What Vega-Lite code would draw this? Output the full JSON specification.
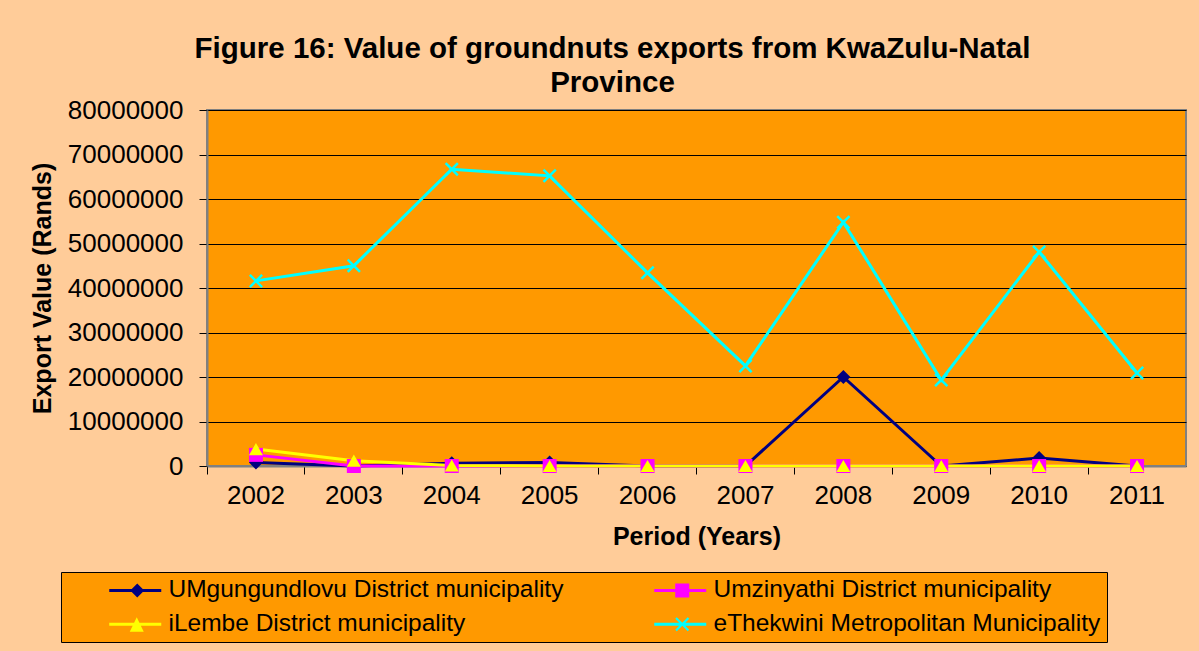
{
  "$schema": "https://vega.github.io/schema/vega-lite/v6.json",
  "width": 979,
  "height": 356,
  "autosize": {"type": "none"},
  "padding": {"left": 207, "top": 110, "right": 13, "bottom": 185},
  "background": "#FFCC99",
  "title": {
    "text": ["Figure 16: Value of groundnuts exports from KwaZulu-Natal", "Province"],
    "font": "Liberation Sans",
    "fontSize": 29.5,
    "fontWeight": "bold",
    "color": "black",
    "anchor": "middle",
    "frame": "group",
    "dx": -84,
    "offset": -1,
    "lineHeight": 34
  },
  "config": {
    "font": "Liberation Sans",
    "view": {"fill": "#FF9900", "stroke": "#808080", "strokeWidth": 2}
  },
  "data": {
    "values": [
      {"year": "2002", "series": "UMgungundlovu District municipality", "value": 800000},
      {"year": "2003", "series": "UMgungundlovu District municipality", "value": 0},
      {"year": "2004", "series": "UMgungundlovu District municipality", "value": 600000},
      {"year": "2005", "series": "UMgungundlovu District municipality", "value": 800000},
      {"year": "2006", "series": "UMgungundlovu District municipality", "value": 0},
      {"year": "2007", "series": "UMgungundlovu District municipality", "value": 0},
      {"year": "2008", "series": "UMgungundlovu District municipality", "value": 20000000},
      {"year": "2009", "series": "UMgungundlovu District municipality", "value": 0},
      {"year": "2010", "series": "UMgungundlovu District municipality", "value": 1800000},
      {"year": "2011", "series": "UMgungundlovu District municipality", "value": 0},
      {"year": "2002", "series": "Umzinyathi District municipality", "value": 2500000},
      {"year": "2003", "series": "Umzinyathi District municipality", "value": 0},
      {"year": "2004", "series": "Umzinyathi District municipality", "value": 0},
      {"year": "2005", "series": "Umzinyathi District municipality", "value": 0},
      {"year": "2006", "series": "Umzinyathi District municipality", "value": 0},
      {"year": "2007", "series": "Umzinyathi District municipality", "value": 0},
      {"year": "2008", "series": "Umzinyathi District municipality", "value": 0},
      {"year": "2009", "series": "Umzinyathi District municipality", "value": 0},
      {"year": "2010", "series": "Umzinyathi District municipality", "value": 0},
      {"year": "2011", "series": "Umzinyathi District municipality", "value": 0},
      {"year": "2002", "series": "iLembe District municipality", "value": 3800000},
      {"year": "2003", "series": "iLembe District municipality", "value": 1200000},
      {"year": "2004", "series": "iLembe District municipality", "value": 100000},
      {"year": "2005", "series": "iLembe District municipality", "value": 0},
      {"year": "2006", "series": "iLembe District municipality", "value": 0},
      {"year": "2007", "series": "iLembe District municipality", "value": 0},
      {"year": "2008", "series": "iLembe District municipality", "value": 0},
      {"year": "2009", "series": "iLembe District municipality", "value": 0},
      {"year": "2010", "series": "iLembe District municipality", "value": 0},
      {"year": "2011", "series": "iLembe District municipality", "value": 0},
      {"year": "2002", "series": "eThekwini Metropolitan Municipality", "value": 41600000},
      {"year": "2003", "series": "eThekwini Metropolitan Municipality", "value": 45000000},
      {"year": "2004", "series": "eThekwini Metropolitan Municipality", "value": 66700000},
      {"year": "2005", "series": "eThekwini Metropolitan Municipality", "value": 65200000},
      {"year": "2006", "series": "eThekwini Metropolitan Municipality", "value": 43400000},
      {"year": "2007", "series": "eThekwini Metropolitan Municipality", "value": 22500000},
      {"year": "2008", "series": "eThekwini Metropolitan Municipality", "value": 54800000},
      {"year": "2009", "series": "eThekwini Metropolitan Municipality", "value": 19300000},
      {"year": "2010", "series": "eThekwini Metropolitan Municipality", "value": 48100000},
      {"year": "2011", "series": "eThekwini Metropolitan Municipality", "value": 20900000}
    ]
  },
  "encoding": {
    "x": {
      "field": "year",
      "type": "ordinal",
      "bandPosition": 0.5,
      "scale": {"type": "band", "paddingInner": 0, "paddingOuter": 0},
      "axis": {
        "title": "Period (Years)",
        "titleFontSize": 25,
        "titleFontWeight": "bold",
        "titleColor": "black",
        "titlePadding": 16,
        "labelFontSize": 26,
        "labelColor": "black",
        "labelAngle": 0,
        "labelPadding": 8,
        "tickSize": 8,
        "tickColor": "black",
        "domainColor": "#808080",
        "domainWidth": 2,
        "bandPosition": 0,
        "grid": false
      }
    },
    "y": {
      "field": "value",
      "type": "quantitative",
      "scale": {"domain": [0, 80000000], "nice": false},
      "axis": {
        "title": "Export Value (Rands)",
        "titleFontSize": 25,
        "titleFontWeight": "bold",
        "titleColor": "black",
        "titlePadding": 12,
        "values": [0, 10000000, 20000000, 30000000, 40000000, 50000000, 60000000, 70000000, 80000000],
        "format": "d",
        "labelFontSize": 26,
        "labelColor": "black",
        "labelPadding": 16,
        "tickSize": 8,
        "tickColor": "black",
        "domainColor": "#808080",
        "domainWidth": 2,
        "grid": true,
        "gridColor": "black",
        "gridWidth": 1,
        "gridOpacity": 1
      }
    },
    "color": {
      "field": "series",
      "type": "nominal",
      "sort": ["UMgungundlovu District municipality", "Umzinyathi District municipality", "iLembe District municipality", "eThekwini Metropolitan Municipality"],
      "scale": {
        "domain": ["UMgungundlovu District municipality", "Umzinyathi District municipality", "iLembe District municipality", "eThekwini Metropolitan Municipality"],
        "range": ["#000080", "#FF00FF", "#FFFF00", "#00FFFF"]
      },
      "legend": null
    }
  },
  "resolve": {
    "scale": {"shape": "independent"},
    "legend": {"color": "independent", "shape": "independent"}
  },
  "layer": [
    {
      "mark": {"type": "line", "strokeWidth": 3},
      "encoding": {"detail": {"field": "series"}, "order": {"field": "year"}}
    },
    {
      "mark": {"type": "point", "filled": true, "opacity": 1, "size": 196},
      "encoding": {
        "shape": {
          "field": "series",
          "type": "nominal",
          "scale": {
            "domain": ["UMgungundlovu District municipality", "Umzinyathi District municipality", "iLembe District municipality", "eThekwini Metropolitan Municipality"],
            "range": ["diamond", "square", "triangle-up", "M-1,-0.75L-0.75,-1L0,-0.25L0.75,-1L1,-0.75L0.25,0L1,0.75L0.75,1L0,0.25L-0.75,1L-1,0.75L-0.25,0Z"]
          },
          "legend": null
        }
      }
    },
    {
      "transform": [{"filter": "false"}],
      "mark": {"type": "point", "filled": true, "opacity": 1},
      "encoding": {
        "color": {
          "field": "series",
          "type": "nominal",
          "sort": ["UMgungundlovu District municipality", "Umzinyathi District municipality", "iLembe District municipality", "eThekwini Metropolitan Municipality"],
          "legend": {
            "title": "\u00a0",
            "titleOrient": "left",
            "titleFontSize": 20,
            "titleColor": "transparent",
            "titlePadding": 56,
            "orient": "none",
            "legendX": -146,
            "legendY": 462,
            "columns": 2,
            "direction": "horizontal",
            "columnPadding": 90,
            "rowPadding": 9,
            "padding": 6,
            "fillColor": "#FF9900",
            "strokeColor": "black",
            "labelFontSize": 24.5,
            "labelColor": "black",
            "labelLimit": 700,
            "labelOffset": 21,
            "symbolSize": 400,
            "symbolStrokeWidth": 0,
            "symbolOpacity": 1
          }
        },
        "shape": {
          "field": "series",
          "type": "nominal",
          "sort": ["UMgungundlovu District municipality", "Umzinyathi District municipality", "iLembe District municipality", "eThekwini Metropolitan Municipality"],
          "scale": {
            "domain": ["UMgungundlovu District municipality", "Umzinyathi District municipality", "iLembe District municipality", "eThekwini Metropolitan Municipality"],
            "range": [
              "M-2.6,-0.15H2.6V0.15H-2.6ZM0.2,-0.7L0.9,0L0.2,0.7L-0.5,0Z",
              "M-2.6,-0.15H2.6V0.15H-2.6ZM-0.5,-0.7H0.9V0.7H-0.5Z",
              "M-2.6,-0.15H2.6V0.15H-2.6ZM0.15,-0.7L0.85,0.75H-0.55Z",
              "M-2.6,-0.15H2.6V0.15H-2.6ZM-0.5,-0.545L-0.345,-0.7L0.2,-0.155L0.745,-0.7L0.9,-0.545L0.355,0L0.9,0.545L0.745,0.7L0.2,0.155L-0.345,0.7L-0.5,0.545L0.045,0Z"
            ]
          },
          "legend": {
            "title": "\u00a0",
            "titleOrient": "left",
            "titleFontSize": 20,
            "titleColor": "transparent",
            "titlePadding": 56,
            "orient": "none",
            "legendX": -146,
            "legendY": 462,
            "columns": 2,
            "direction": "horizontal",
            "columnPadding": 90,
            "rowPadding": 9,
            "padding": 6,
            "fillColor": "#FF9900",
            "strokeColor": "black",
            "labelFontSize": 24.5,
            "labelColor": "black",
            "labelLimit": 700,
            "labelOffset": 21,
            "symbolSize": 400,
            "symbolStrokeWidth": 0,
            "symbolOpacity": 1
          }
        }
      }
    }
  ]
}
